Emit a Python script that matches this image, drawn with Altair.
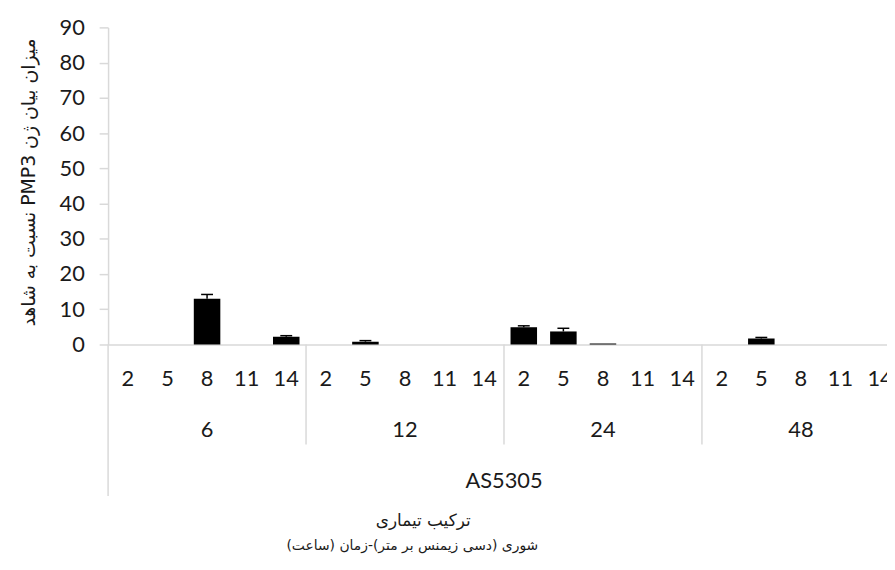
import altair as alt
import pandas as pd

times = ["6", "12", "24", "48"]
salinity = ["2", "5", "8", "11", "14"]
values = [0, 0, 13.0, 0, 2.2,
          0, 0.8, 0, 0, 0,
          4.9, 3.7, 0.3, 0, 0,
          0, 1.7, 0, 0, 0]
errors = [0, 0, 1.2, 0, 0.3,
          0, 0.3, 0, 0, 0,
          0.4, 0.9, 0, 0, 0,
          0, 0.3, 0, 0, 0]
genotype = "AS5305"
RLE, PDF = "\u202b", "\u202c"
y_title = RLE + "میزان بیان ژن PMP3 نسبت به شاهد" + PDF
x_title_1 = RLE + "ترکیب تیماری" + PDF
x_title_2 = RLE + "شوری (دسی زیمنس بر متر)-زمان (ساعت)" + PDF

rows = []
for g, t in enumerate(times):
    for s_i, s in enumerate(salinity):
        i = g * len(salinity) + s_i
        rows.append({
            "idx": i, "time": t, "sal": s,
            "value": values[i], "err": errors[i], "zero": 0,
            "x0": i + 0.165, "x1": i + 0.835, "xc": i + 0.5,
            "top": values[i] + errors[i],
            "cl": i + 0.35, "cr": i + 0.65,
        })
df = pd.DataFrame(rows)
df_bar = df[df["value"] > 0]
df_err = df[df["err"] > 0]

n = len(df)
groups = pd.DataFrame({
    "time": times,
    "xc": [g * 5 + 2.5 for g in range(len(times))],
})
seps = pd.DataFrame({"x": [5, 10, 15]})
left_sep = pd.DataFrame({"x": [0]})
geno = pd.DataFrame({"t": [genotype], "xc": [n / 2]})

W, H = 786, 320
CAT_W = 39.95                      # the reference's category band, px
LABEL_FONT = "Lato"
FA_FONT = "DejaVu Sans"
GRID = "#d9d9d9"
TXT = "#1a1a1a"
FS = 22

# the reference's last category runs past the picture's right edge
xs = alt.Scale(domain=[0, W / CAT_W], nice=False, zero=False)
ys = alt.Scale(domain=[0, 90], nice=False)

x_axis = alt.Axis(labels=False, ticks=False, grid=False, title=None,
                  domainColor=GRID, domainWidth=1.5)
y_axis = alt.Axis(values=list(range(0, 91, 10)), grid=False,
                  labelOverlap=False, tickCount=10,
                  title=y_title, titleFont=FA_FONT, titleFontSize=19,
                  titleFontWeight="normal", titleColor=TXT,
                  titleAngle=-90, titleX=-80, titleY=H / 2 - 4,
                  titleAlign="center", titleBaseline="middle",
                  labelFont=LABEL_FONT, labelFontSize=FS, labelColor=TXT,
                  labelPadding=15, tickSize=9, tickColor=GRID, tickWidth=1.5,
                  domainColor=GRID, domainWidth=1.5)


def X(field):
    return alt.X(field, type="quantitative", scale=xs, axis=x_axis)


def Y(field):
    return alt.Y(field, type="quantitative", scale=ys, axis=y_axis)


bars = alt.Chart(df_bar).mark_rect(color="black").encode(
    x=X("x0"), x2="x1:Q", y=Y("value"), y2="zero:Q")

err_line = alt.Chart(df_err).mark_rule(color="black", strokeWidth=1.5).encode(
    x=X("xc"), y=Y("value"), y2="top:Q")
err_cap = alt.Chart(df_err).mark_rule(color="black", strokeWidth=1.5).encode(
    x=X("cl"), x2="cr:Q", y=Y("top"))

sal_text = alt.Chart(df).mark_text(font=LABEL_FONT, fontSize=FS, color=TXT,
                                   baseline="middle").encode(
    x=X("xc"), y=alt.value(H + 35), text="sal:N")

time_text = alt.Chart(groups).mark_text(font=LABEL_FONT, fontSize=FS, color=TXT,
                                        baseline="middle").encode(
    x=X("xc"), y=alt.value(H + 86), text="time:N")

geno_text = alt.Chart(geno).mark_text(font=LABEL_FONT, fontSize=FS, color=TXT,
                                      baseline="middle").encode(
    x=X("xc"), y=alt.value(H + 138), text="t:N")

sep_rules = alt.Chart(seps).mark_rule(color=GRID, strokeWidth=1.5).encode(
    x=X("x"), y=alt.value(H), y2=alt.value(H + 101))
left_rule = alt.Chart(left_sep).mark_rule(color=GRID, strokeWidth=1.5).encode(
    x=X("x"), y=alt.value(H), y2=alt.value(H + 153))

title1 = alt.Chart(pd.DataFrame({"t": [x_title_1]})).mark_text(
    font=FA_FONT, fontSize=17, color=TXT, baseline="middle").encode(
    x=alt.value(318), y=alt.value(H + 178), text="t:N")
title2 = alt.Chart(pd.DataFrame({"t": [x_title_2]})).mark_text(
    font=FA_FONT, fontSize=14, color=TXT, baseline="middle").encode(
    x=alt.value(307), y=alt.value(H + 203), text="t:N")

chart = alt.layer(
    bars, err_line, err_cap, sal_text, time_text, geno_text,
    sep_rules, left_rule, title1, title2
).properties(
    width=W, height=H,
    autosize=alt.AutoSizeParams(type="none"),
    padding={"left": 101, "top": 17, "right": 0, "bottom": 225},
).configure(
    background="white",
    view=alt.ViewConfig(stroke=None),
)

chart.save("out.html", embed_options={"renderer": "svg", "actions": False})
